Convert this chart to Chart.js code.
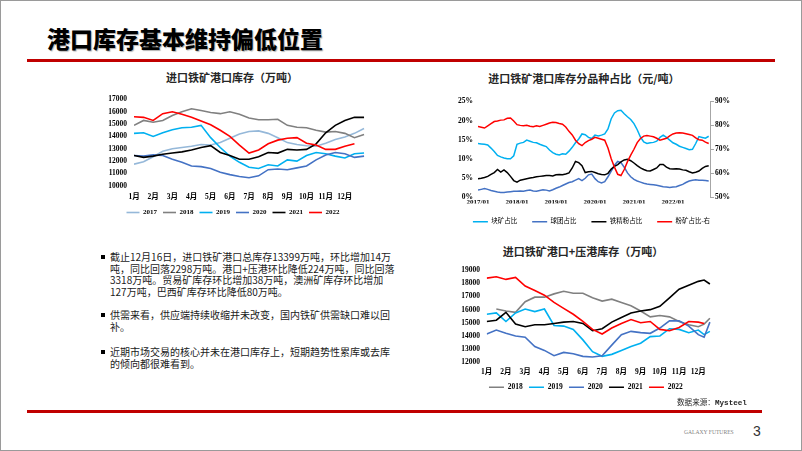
<!DOCTYPE html>
<html>
<head>
<meta charset="utf-8">
<script src="https://cdn.jsdelivr.net/npm/chart.js@4.4.1/dist/chart.umd.min.js"></script>
<style>
  body { margin:0; width:802px; height:451px; overflow:hidden; background:#fff; position:relative; font-family:"Noto Sans CJK SC", sans-serif; }
  .abs { position:absolute; }
  .frame { left:0; top:0; width:800px; height:449px; border:1px solid #9a9a9a; }
  .headline { left:47px; top:24px; font-size:23px; line-height:28px; font-weight:900; color:#000; text-shadow:1px 1px 1px rgba(0,0,0,.3); white-space:nowrap; }
  .rule { background:#c00000; height:3px; }
  .ctitle { font-size:11px; line-height:16px; font-weight:bold; color:#262626; text-align:center; white-space:nowrap; width:300px; }
  .para { left:110px; font-size:10px; line-height:11.7px; color:#1a1a1a; white-space:nowrap; }
  .bullet { left:101px; width:4px; height:4px; background:#000; }
  canvas { position:absolute; }
</style>
</head>
<body>
<div class="abs frame"></div>
<div class="abs headline">港口库存基本维持偏低位置</div>
<div class="abs rule" style="left:27px;top:59px;width:748px;"></div>

<div class="abs ctitle" style="left:82px;top:69px;">进口铁矿港口库存（万吨）</div>
<div class="abs ctitle" style="left:434px;top:70px;">进口铁矿港口库存分品种占比（元/吨）</div>
<div class="abs ctitle" style="left:433px;top:243px;">进口铁矿港口+压港库存（万吨）</div>

<canvas id="chart-1" width="280" height="138" style="left:95px;top:88px;width:280px;height:138px;"></canvas>
<canvas id="chart-2" width="300" height="143" style="left:440px;top:92px;width:300px;height:143px;"></canvas>
<canvas id="chart-3" width="285" height="142" style="left:440px;top:259px;width:285px;height:142px;"></canvas>

<div class="abs bullet" style="top:255px;"></div>
<div class="abs para" style="top:251px;">截止12月16日，进口铁矿港口总库存13399万吨，环比增加14万<br>吨，同比回落2298万吨。港口+压港环比降低224万吨，同比回落<br>3318万吨。贸易矿库存环比增加38万吨，澳洲矿库存环比增加<br>127万吨，巴西矿库存环比降低80万吨。</div>
<div class="abs bullet" style="top:313px;"></div>
<div class="abs para" style="top:309px;">供需来看，供应端持续收缩并未改变，国内铁矿供需缺口难以回<br>补。</div>
<div class="abs bullet" style="top:350px;"></div>
<div class="abs para" style="top:346px;">近期市场交易的核心并未在港口库存上，短期趋势性累库或去库<br>的倾向都很难看到。</div>

<div class="abs" style="left:677px;top:396px;font-size:7.6px;line-height:12px;color:#262626;white-space:nowrap;">数据来源：<span style="font-family:'Liberation Mono',monospace;font-weight:bold;">Mysteel</span></div>
<div class="abs rule" style="left:27px;top:410px;width:735px;"></div>
<div class="abs" style="left:684px;top:428px;font-family:'Liberation Serif',serif;font-size:5.6px;line-height:8px;color:#7f7f7f;white-space:nowrap;">GALAXY FUTURES</div>
<div class="abs" style="left:753px;top:422px;font-family:'Liberation Sans',sans-serif;font-size:14px;line-height:18px;color:#333;">3</div>

<script>
// ---- chart 1: port inventory, half-month points ----
var monthLabels = ['1月','2月','3月','4月','5月','6月','7月','8月','9月','10月','11月','12月'];
var monthTicks = [0,1,2,3,4,5,6,7,8,9,10,11];
var steps1 = [0,0.5,1,1.5,2,2.5,3,3.5,4,4.5,5,5.5,6,6.5,7,7.5,8,8.5,9,9.5,10,10.5,11,11.5,12];
var years1 = ['2017','2018','2019','2020','2021','2022'];
var port2017 = [11750,11950,12350,12800,13000,13100,13200,13350,13300,13500,13850,14200,14400,14450,14250,13900,13500,13350,13250,13200,13450,13750,13950,14250,14650];
var port2018 = [14900,15300,15150,15300,15700,16000,16250,16100,15950,15850,16000,15800,15500,15350,15350,15400,14900,14750,14700,14500,14350,14400,14250,13900,14150];
var port2019 = [14250,14300,14000,14300,14550,14700,14750,14900,13900,13100,12400,11900,11500,11400,11700,11600,12100,12000,12450,12700,12600,12400,12250,12600,12650];
var port2020 = [12450,12400,12500,12450,12150,11900,11600,11550,11400,11100,10900,10750,10650,10800,11300,11350,11300,11450,11600,12100,12500,12700,12600,12300,12400];
var port2021 = [12450,12300,12400,12550,12650,12750,12900,13100,13250,12700,12450,12150,12150,12350,12700,12650,12950,12900,12950,13400,14300,14900,15300,15550,15550];
var port2022 = [15600,15550,15300,15850,16000,15800,15550,15250,14950,14500,14000,13300,12650,12900,13400,13700,13850,13900,13450,13300,12950,12950,13200,13399,null];
var portTicks = [10000,11000,12000,13000,14000,15000,16000,17000];

// ---- chart 2: share by ore type, monthly from 2017/01 ----
var yearTicks = [0,12,24,36,48,60];
var yearLabels = ['2017/01','2018/01','2019/01','2020/01','2021/01','2022/01'];
var typeNames = ['块矿占比','球团占比','铁精粉占比','粉矿占比-右'];
var lumpShare = [14.0,13.9,13.8,13.6,12.8,11.9,10.9,10.5,10.2,10.0,10.0,10.8,
                 13.8,14.1,14.3,14.9,14.6,14.3,14.2,13.8,13.5,13.2,12.3,11.6,
                 11.2,11.0,11.3,11.2,12.0,13.0,14.2,15.2,16.5,16.3,15.6,15.3,
                 16.2,16.0,16.2,16.5,17.8,20.5,22.0,22.6,22.7,21.8,21.0,20.3,
                 19.2,17.6,15.7,14.4,14.0,14.2,14.3,14.6,15.6,16.2,15.6,14.9,
                 14.2,13.8,13.3,13.0,12.7,12.4,12.5,14.0,15.8,15.6,15.4,15.9];
var pelletShare = [1.8,2.0,2.2,2.0,1.7,1.5,1.3,1.2,1.2,1.3,1.4,1.5,
                   1.5,1.6,1.5,1.7,1.8,1.6,1.5,1.7,1.9,1.8,1.6,1.9,
                   2.3,2.6,3.0,3.4,3.8,4.0,4.4,4.8,4.3,4.9,5.8,6.0,
                   4.8,4.0,3.7,4.0,5.3,6.8,8.3,9.3,9.0,7.8,6.3,5.3,
                   4.6,4.2,3.9,3.6,3.4,3.3,3.2,3.1,2.9,2.7,2.6,2.5,
                   2.6,2.7,3.0,3.3,3.8,4.2,4.4,4.5,4.4,4.4,4.3,4.2];
var concShare = [4.8,4.9,5.1,5.4,5.9,6.4,7.2,6.5,7.1,6.4,5.4,4.3,
                 3.9,4.4,4.6,4.8,5.0,5.1,5.3,5.4,5.5,5.6,5.6,5.5,
                 5.8,5.9,5.8,6.0,6.3,7.6,9.3,9.0,8.2,6.4,6.6,6.7,
                 6.4,6.1,5.9,5.8,6.2,7.3,8.0,8.5,9.2,9.7,9.9,9.5,
                 8.9,8.2,7.6,7.2,6.9,6.8,7.2,7.6,8.5,8.5,7.8,7.4,
                 7.3,7.4,7.3,7.1,7.0,6.6,6.3,6.5,6.8,7.5,8.0,8.2];
var fineShare = [79.5,79.2,78.9,79.8,80.7,81.6,81.8,82.2,82.3,83.0,83.1,81.8,
                 80.3,80.0,79.8,80.0,79.6,79.4,79.8,79.5,80.0,80.5,81.0,81.3,
                 81.2,80.8,80.5,79.3,77.5,76.0,73.8,72.3,71.5,72.8,73.6,74.2,
                 75.0,74.6,74.2,73.8,70.5,66.0,62.5,59.5,59.0,61.5,64.8,67.5,
                 70.0,72.8,74.5,75.5,75.8,75.5,75.2,74.6,73.8,74.2,74.6,75.6,
                 76.4,76.8,76.9,76.8,76.5,76.2,75.8,74.8,74.0,73.8,73.0,72.4];

// ---- chart 3: port + waiting-at-port inventory ----
var steps3 = [0,0.5,1,1.5,2,2.5,3,3.5,4,4.5,5,5.5,6,6.5,7,7.5,8,8.5,9,9.5,10,10.5,11,11.3,11.6];
var years3 = ['2018','2019','2020','2021','2022'];
var all2018 = [null,16050,15900,15800,16600,16950,16950,17200,17400,17250,17250,16900,16650,16800,16550,16300,15900,15450,15550,15450,15100,14850,14700,14900,15350];
var all2019 = [15650,15750,15100,15750,16050,15850,16050,14800,14750,14500,13700,12800,12450,12600,12900,13200,13450,13950,14000,14550,14500,14250,14450,14100,14350];
var all2020 = [14150,14450,14200,14000,13900,13200,12900,12500,12750,12650,12450,12400,12500,13300,14100,14350,14250,14200,14600,15150,15150,14750,14100,13900,15050];
var all2021 = [15100,15200,15800,14900,14700,14850,14850,14950,15050,15100,14950,14400,14550,15050,15400,15750,15900,16000,16250,16900,17550,17850,18150,18250,17950];
var all2022 = [18400,18500,18300,18450,17800,17450,17100,16550,16100,15650,15100,14500,14150,14600,14950,15250,15000,15100,14500,14400,14650,15100,15050,14950,null];
var allTicks = [12000,13000,14000,15000,16000,17000,18000,19000];

var serif = "'Liberation Serif', 'Noto Sans CJK SC', serif";
var tickFont = {family: serif, size: 7.5, weight: 'bold'};
var colors = {
  '2017': '#95b8d9', '2018': '#808080', '2019': '#00b0f0',
  '2020': '#4472c4', '2021': '#000000', '2022': '#ff0000'
};
var noGrid = {display: false, drawTicks: false};

function toPoints(xs, ys) {
  return ys.map(function(v, i) { return {x: xs[i], y: v}; });
}

function lineSet(label, color, pts, n, i, axis) {
  return {
    label: label, data: pts, borderColor: color, backgroundColor: color,
    borderWidth: 1.6, pointRadius: 0, tension: 0, order: n - i,
    yAxisID: axis || 'y'
  };
}

function legendOpts(size, width, pad, font) {
  return {
    position: 'bottom',
    labels: {
      usePointStyle: true, pointStyle: 'line', pointStyleWidth: width,
      boxHeight: size, padding: pad, color: '#000', font: font,
      sort: function(a, b) { return a.datasetIndex - b.datasetIndex; }
    }
  };
}

function monthAxis(max, pad, h) {
  return {
    type: 'linear', min: 0, max: max,
    grid: noGrid, border: {display: false},
    afterBuildTicks: function(s) { s.ticks = monthTicks.map(function(v) { return {value: v}; }); },
    afterFit: function(s) { s.height = h; },
    ticks: {
      autoSkip: false, maxRotation: 0, padding: pad, color: '#000', font: tickFont,
      callback: function(v) { return monthLabels[v]; }
    }
  };
}

function valueAxis(ticksList, pad, w) {
  return {
    min: ticksList[0], max: ticksList[ticksList.length - 1],
    grid: noGrid, border: {display: false},
    afterBuildTicks: function(s) { s.ticks = ticksList.map(function(v) { return {value: v}; }); },
    afterFit: function(s) { s.width = w; },
    ticks: {
      padding: pad, color: '#000', font: tickFont,
      callback: function(v) { return String(v); }
    }
  };
}

var series1 = [port2017, port2018, port2019, port2020, port2021, port2022];
var sets1 = series1.map(function(ys, i) {
  return lineSet(years1[i], colors[years1[i]], toPoints(steps1, ys), series1.length, i);
});

new Chart(document.getElementById('chart-1'), {
  type: 'line',
  data: {datasets: sets1},
  options: {
    responsive: false, animation: false,
    layout: {padding: {left: 6, right: 10, top: 7, bottom: 0}},
    plugins: {
      legend: legendOpts(7, 13, 6, {family: serif, size: 7, weight: 'bold'}),
      tooltip: {enabled: false}
    },
    scales: {
      x: monthAxis(12.05, 6.8, 17.3),
      y: valueAxis(portTicks, 7, 33)
    }
  }
});

var t72 = lumpShare.map(function(v, i) { return i; });
var shareSeries = [lumpShare, pelletShare, concShare, fineShare];
var shareColors = ['#00b0f0', '#4472c4', '#000000', '#ff0000'];
var sets2 = shareSeries.map(function(ys, i) {
  var s = lineSet(typeNames[i], shareColors[i], toPoints(t72, ys), 4, i, i === 3 ? 'y1' : 'y');
  s.borderWidth = 1.5;
  return s;
});

new Chart(document.getElementById('chart-2'), {
  type: 'line',
  data: {datasets: sets2},
  options: {
    responsive: false, animation: false,
    layout: {padding: {left: 3, right: 0, top: 7, bottom: 0}},
    plugins: {
      legend: legendOpts(6.5, 15, 15, {family: serif, size: 6.5}),
      tooltip: {enabled: false}
    },
    scales: {
      x: {
        type: 'linear', min: 0, max: 71.4,
        grid: noGrid, border: {display: false},
        afterBuildTicks: function(s) { s.ticks = yearTicks.map(function(v) { return {value: v}; }); },
        afterFit: function(s) { s.height = 6.5; },
        ticks: {
          autoSkip: false, maxRotation: 0, padding: 0.5, color: '#000',
          font: {family: serif, size: 7, weight: 'bold'},
          callback: function(v) { return yearLabels[yearTicks.indexOf(v)]; }
        }
      },
      y: {
        position: 'left', min: 0, max: 25,
        grid: noGrid, border: {display: false},
        afterFit: function(s) { s.width = 35; },
        ticks: {
          stepSize: 5, padding: 5, color: '#000',
          font: {family: serif, size: 7.5, weight: 'bold'},
          callback: function(v) { return v + '%'; }
        }
      },
      y1: {
        position: 'right', min: 50, max: 90,
        grid: {display: true, drawOnChartArea: false, drawTicks: true, tickLength: 4, color: '#a6a6a6'},
        border: {display: true, color: '#a6a6a6'},
        afterFit: function(s) { s.width = 30; },
        ticks: {
          stepSize: 10, padding: 1, color: '#000',
          font: {family: serif, size: 7.5, weight: 'bold'},
          callback: function(v) { return v + '%'; }
        }
      }
    }
  }
});

var series3 = [all2018, all2019, all2020, all2021, all2022];
var sets3 = series3.map(function(ys, i) {
  return lineSet(years3[i], colors[years3[i]], toPoints(steps3, ys), series3.length, i);
});

new Chart(document.getElementById('chart-3'), {
  type: 'line',
  data: {datasets: sets3},
  options: {
    responsive: false, animation: false,
    layout: {padding: {left: 19.7, right: 13, top: 7.7, bottom: 0}},
    plugins: {
      legend: legendOpts(7.5, 15, 6.25, {family: serif, size: 7.5, weight: 'bold'}),
      tooltip: {enabled: false}
    },
    scales: {
      x: monthAxis(11.71, 4.9, 15),
      y: valueAxis(allTicks, 6.7, 27)
    }
  }
});
</script>
</body>
</html>
